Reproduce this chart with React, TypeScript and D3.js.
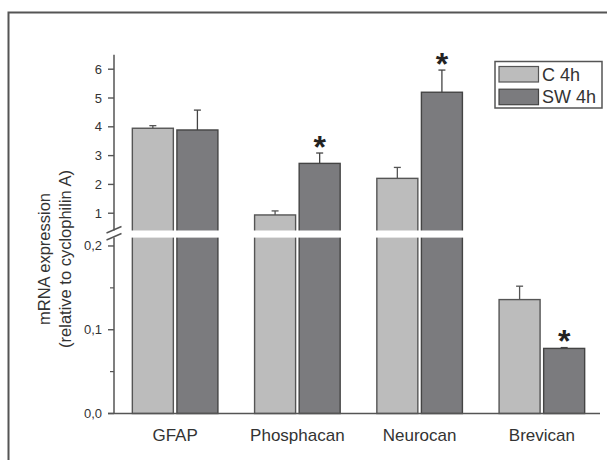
import React from "react";
import * as d3 from "d3";

const categories = ["GFAP", "Phosphacan", "Neurocan", "Brevican"];
const seriesNames = ["C 4h", "SW 4h"];
const controlValues = [3.95, 0.94, 2.21, 0.136];
const controlErrors = [0.09, 0.14, 0.38, 0.016];
const swValues = [3.89, 2.73, 5.2, 0.0777];
const swErrors = [0.69, 0.36, 0.77, 0.001];
const significant = [false, true, true, true];
const upperTicks = [1, 2, 3, 4, 5, 6];
const lowerTicks = [0, 0.1, 0.2];
const lowerMinorTicks = [0.05, 0.15];

const W = 607;
const H = 460;
const axisX = 114;
const xRight = 603;
const y0 = 413.5;
const FONT = "'Liberation Sans', Arial, sans-serif";
const TXT = "#333";
const AX = "#555";
const fills = ["#bcbcbc", "#7b7b7e"];
const strokes = ["#555", "#444"];

const yUpper = d3.scaleLinear().domain([0.4, 6.5]).range([230.5, 54.8]);
const yLower = d3.scaleLinear().domain([0, 0.21]).range([y0, 237.6]);
const yPos = (v: number) => (v >= 0.4 ? yUpper(v) : yLower(Math.min(v, 0.21)));

const x0 = d3.scaleBand<string>().domain(categories).range([axisX, xRight]).paddingInner(0.3).paddingOuter(0.15);
const x1 = d3.scaleBand<string>().domain(seriesNames).range([0, x0.bandwidth()]).paddingInner(0.08);

const fmt = (v: number) => d3.format(".1f")(v).replace(".", ",");

export default function App() {
  const series = [
    { name: seriesNames[0], values: controlValues, errors: controlErrors },
    { name: seriesNames[1], values: swValues, errors: swErrors },
  ];
  const gapTop = yUpper(0.4);
  const gapBottom = yLower(0.21);
  return (
    <svg width={W} height={H} style={{ position: "absolute", left: 0, top: 0, background: "#fff" }} fontFamily={FONT}>
      <rect x={0} y={0} width={W} height={H} fill="#fff" />
      <path d={`M8.5,${H + 10} V12.5 H${W + 10}`} fill="none" stroke={AX} strokeWidth={2} />
      {/* bars */}
      {series.map((s, si) =>
        categories.map((c, ci) => {
          const bx = (x0(c) as number) + (x1(s.name) as number);
          const bw = x1.bandwidth();
          const v = s.values[ci];
          const top = yPos(v);
          const errTop = yPos(v + s.errors[ci]);
          const cx = bx + bw / 2;
          return (
            <g key={`${si}-${ci}`}>
              <line x1={cx} x2={cx} y1={top} y2={errTop} stroke={strokes[si]} strokeWidth={1.3} />
              <line x1={cx - 3.5} x2={cx + 3.5} y1={errTop} y2={errTop} stroke={strokes[si]} strokeWidth={1.3} />
              <rect x={bx} y={top} width={bw} height={y0 - top} fill={fills[si]} stroke={strokes[si]} strokeWidth={1.4} />
            </g>
          );
        })
      )}
      {/* asterisks */}
      {categories.map((c, ci) => {
        if (!significant[ci]) return null;
        const cx = (x0(c) as number) + (x1(seriesNames[1]) as number) + x1.bandwidth() / 2;
        const capY = yPos(swValues[ci] + swErrors[ci]);
        return (
          <text key={c} x={cx} y={capY - 13.5 + 18} textAnchor="middle" fontSize={32} fontWeight="bold" fill="#222">
            *
          </text>
        );
      })}
      {/* break band */}
      <rect x={axisX - 2} y={gapTop} width={W} height={gapBottom - gapTop} fill="#fff" />
      {/* y axis */}
      <line x1={axisX} x2={axisX} y1={yUpper(6.5)} y2={gapTop} stroke={AX} strokeWidth={1.5} />
      <line x1={axisX} x2={axisX} y1={gapBottom} y2={y0} stroke={AX} strokeWidth={1.5} />
      <line x1={106.5} y1={233} x2={121.5} y2={226.5} stroke={AX} strokeWidth={1.4} />
      <line x1={106.5} y1={240} x2={121.5} y2={233.5} stroke={AX} strokeWidth={1.4} />
      {upperTicks.map((t) => (
        <g key={`u${t}`}>
          <line x1={axisX - 6} x2={axisX} y1={yUpper(t)} y2={yUpper(t)} stroke={AX} strokeWidth={1.4} />
          <text x={axisX - 12} y={yUpper(t) + 4.5} textAnchor="end" fontSize={13} fill={TXT}>
            {t}
          </text>
        </g>
      ))}
      {lowerTicks.map((t) => (
        <g key={`l${t}`}>
          <line x1={axisX - 6} x2={axisX} y1={yLower(t)} y2={yLower(t)} stroke={AX} strokeWidth={1.4} />
          <text x={axisX - 12} y={yLower(t) + 4.5} textAnchor="end" fontSize={13} fill={TXT}>
            {fmt(t)}
          </text>
        </g>
      ))}
      {lowerMinorTicks.map((t) => (
        <line key={`m${t}`} x1={axisX - 4} x2={axisX} y1={yLower(t)} y2={yLower(t)} stroke={AX} strokeWidth={1.2} />
      ))}
      {/* x axis */}
      <line x1={axisX - 6} x2={600} y1={y0} y2={y0} stroke={AX} strokeWidth={1.5} />
      {categories.map((c) => (
        <text key={c} x={(x0(c) as number) + x0.bandwidth() / 2} y={441} textAnchor="middle" fontSize={17} fill={TXT}>
          {c}
        </text>
      ))}
      {/* axis title */}
      <g transform="translate(50,259) rotate(-90)">
        <text x={0} y={0} textAnchor="middle" fontSize={16.5} fill={TXT}>
          mRNA expression
        </text>
        <text x={0} y={21} textAnchor="middle" fontSize={16.5} fill={TXT}>
          (relative to cyclophilin A)
        </text>
      </g>
      {/* legend */}
      <rect x={495} y={61.5} width={107} height={46.5} fill="#fff" stroke={AX} strokeWidth={1.5} />
      {seriesNames.map((n, i) => (
        <g key={n}>
          <rect x={499} y={66.5 + i * 22.7} width={39.5} height={15.5} fill={fills[i]} stroke={strokes[i]} strokeWidth={1.2} />
          <text x={542} y={80.5 + i * 22.7} fontSize={18} fill={TXT}>
            {n}
          </text>
        </g>
      ))}
    </svg>
  );
}
